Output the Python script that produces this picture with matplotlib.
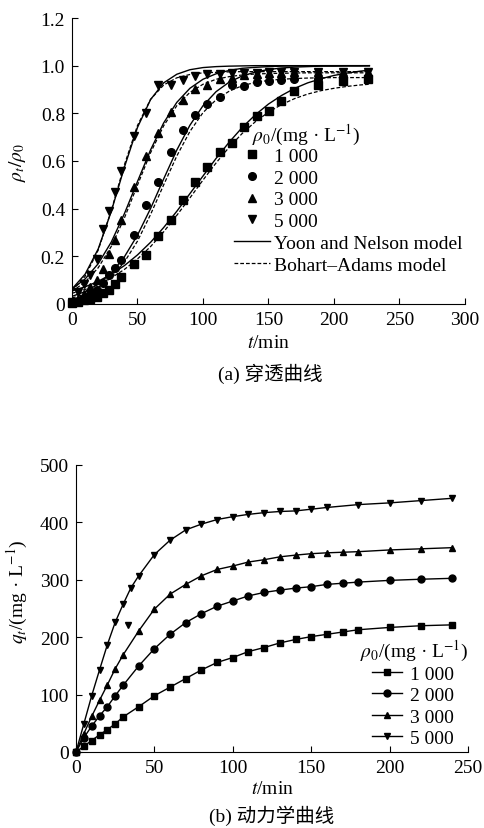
#Recreating the breakthrough curve and kinetic curve figure

#Imports
import numpy as np
import matplotlib.pyplot as plt
from matplotlib.lines import Line2D

plt.rcParams['font.family'] = ['Liberation Serif', 'Noto Sans CJK SC']
plt.rcParams['mathtext.fontset'] = 'stix'
plt.rcParams['font.size'] = 14

#Figure size in pixels (dpi 100)
W, H = 485, 829

def fx(x):
    return x / W

def fy(y):
    return 1 - y / H

#---------------- (a) breakthrough curve data ----------------
conc_labels = ['1 000', '2 000', '3 000', '5 000']

t_a = [0, 4.7, 9.4, 14.1, 18.8, 23.5, 28.2, 32.9, 37.6, 47, 56.4, 65.8, 75.2,
       84.6, 94, 103.4, 112.8, 122.2, 131.6, 141, 150.4, 159.8, 169.2, 188,
       206.8, 225.6]
a_1000 = [0.005, 0.01, 0.015, 0.022, 0.03, 0.045, 0.06, 0.085, 0.113, 0.168,
          0.205, 0.284, 0.353, 0.437, 0.51, 0.576, 0.639, 0.675, 0.741, 0.787,
          0.808, 0.853, 0.892, 0.92, 0.935, 0.945]
a_2000 = [0.005, 0.012, 0.025, 0.04, 0.06, 0.09, 0.12, 0.15, 0.186, 0.289,
          0.415, 0.51, 0.636, 0.731, 0.794, 0.839, 0.867, 0.918, 0.913, 0.93,
          0.935, 0.939, 0.943, 0.945, 0.948, 0.95]
a_3000 = [0.01, 0.02, 0.04, 0.07, 0.1, 0.147, 0.21, 0.27, 0.352, 0.489, 0.622,
          0.717, 0.804, 0.855, 0.902, 0.918, 0.943, 0.95, 0.96, 0.965, 0.97,
          0.97, 0.972, 0.975, 0.975, 0.975]
a_5000 = [0.01, 0.05, 0.085, 0.12, 0.189, 0.314, 0.391, 0.47, 0.556, 0.706,
          0.80, 0.918, 0.918, 0.94, 0.955, 0.965, 0.965, 0.97, 0.97, 0.97,
          0.975, 0.975, 0.975, 0.975, 0.975, 0.975]

#model curves
t_m = [0, 10, 20, 30, 40, 50, 60, 70, 80, 90, 100, 110, 120, 130, 140, 150,
       160, 170, 180, 190, 200, 210, 220, 227]
yn_1000 = [0.055, 0.072, 0.095, 0.125, 0.161, 0.206, 0.259, 0.321, 0.389,
           0.463, 0.537, 0.611, 0.679, 0.741, 0.794, 0.839, 0.875, 0.905,
           0.928, 0.945, 0.959, 0.969, 0.977, 0.981]
yn_2000 = [0.032, 0.052, 0.083, 0.130, 0.198, 0.289, 0.401, 0.525, 0.646,
           0.750, 0.832, 0.891, 0.931, 0.957, 0.973, 0.984, 0.990, 0.994,
           0.996, 0.998, 0.998, 0.999, 0.999, 1.0]
yn_3000 = [0.063, 0.105, 0.169, 0.260, 0.379, 0.514, 0.647, 0.760, 0.846,
           0.905, 0.943, 0.966, 0.980, 0.989, 0.993, 0.996, 0.998, 0.999,
           0.999, 1.0, 1.0, 1.0, 1.0, 1.0]
yn_5000 = [0.063, 0.125, 0.231, 0.389, 0.574, 0.741, 0.858, 0.928, 0.964,
           0.983, 0.992, 0.996, 0.998, 0.999, 1.0, 1.0, 1.0, 1.0, 1.0, 1.0,
           1.0, 1.0, 1.0, 1.0]
ba_1000 = [0.045, 0.061, 0.082, 0.110, 0.145, 0.189, 0.241, 0.303, 0.372,
           0.445, 0.520, 0.592, 0.658, 0.716, 0.765, 0.805, 0.837, 0.862,
           0.881, 0.895, 0.905, 0.913, 0.919, 0.922]
ba_2000 = [0.025, 0.042, 0.069, 0.112, 0.176, 0.264, 0.376, 0.500, 0.621,
           0.724, 0.803, 0.857, 0.893, 0.916, 0.930, 0.938, 0.943, 0.946,
           0.948, 0.949, 0.95, 0.95, 0.95, 0.95]
ba_3000 = [0.053, 0.092, 0.152, 0.242, 0.361, 0.499, 0.635, 0.748, 0.832,
           0.888, 0.922, 0.943, 0.954, 0.961, 0.965, 0.967, 0.968, 0.969,
           0.97, 0.97, 0.97, 0.97, 0.97, 0.97]
ba_5000 = [0.056, 0.116, 0.226, 0.392, 0.584, 0.749, 0.859, 0.919, 0.949,
           0.963, 0.970, 0.972, 0.974, 0.975, 0.975, 0.975, 0.975, 0.975,
           0.975, 0.975, 0.975, 0.975, 0.975, 0.975]

#---------------- (b) kinetic curve data ----------------
t_b = [0, 5, 10, 15, 20, 25, 30, 40, 50, 60, 70, 80, 90, 100, 110, 120, 130,
       140, 150, 160, 170, 180, 200, 220, 240]
t_b5 = [0, 5, 10, 15, 20, 25, 30, 35, 40, 50, 60, 70, 80, 90, 100, 110, 120,
        130, 140, 150, 160, 180, 200, 220, 240]
q_1000 = [0, 10, 20, 30, 39, 49, 61, 79, 98, 113, 128, 143, 156, 164.6, 175,
          182, 190, 196, 201, 205, 209, 213, 217, 220, 221.5]
q_2000 = [0, 25, 45, 63, 79, 98, 116, 150, 180, 205, 225.5, 241, 254, 263,
          272, 278, 282, 285.5, 288, 292, 294, 296, 299, 301, 302.6]
q_3000 = [0, 32, 62, 90, 117, 145, 169, 211, 249, 275, 292, 307, 318, 324,
          331, 335, 340, 343, 345.5, 347, 348, 349, 352, 354, 356]
q_5000 = [0, 49, 98, 143, 187, 226, 257, 286, 307, 344, 369, 387, 397, 405,
          410, 414, 417, 419, 420, 423, 426, 431, 434, 438, 442]
#a lone 5000 marker that is off the line
t_extra = [33]
q_extra = [221]

markers = ['s', 'o', '^', 'v']

fig = plt.figure(figsize=(W / 100, H / 100), dpi=100)

def style_axes(ax):
    ax.spines['top'].set_visible(False)
    ax.spines['right'].set_visible(False)
    for s in ['left', 'bottom']:
        ax.spines[s].set_linewidth(0.8)
    ax.tick_params(direction='in', length=4, width=0.8, pad=5)

#---------------- top chart ----------------
ax1 = fig.add_axes([fx(72), fy(305), fx(465) - fx(72), fy(19) - fy(305)])
style_axes(ax1)
yn = [yn_1000, yn_2000, yn_3000, yn_5000]
ba = [ba_1000, ba_2000, ba_3000, ba_5000]
pts = [a_1000, a_2000, a_3000, a_5000]
for i in range(4):
    ax1.plot(t_m, yn[i], color='black', lw=1.0, zorder=2)
    ax1.plot(t_m, ba[i], color='black', lw=0.9, ls=(0, (3, 1.6)), zorder=2)
    ax1.plot(t_a, pts[i], ls='none', marker=markers[i], color='black',
             ms=5.5, clip_on=False, zorder=3)
ax1.set_xlim(0, 300)
ax1.set_ylim(0, 1.2)
ax1.set_xticks(np.arange(0, 301, 50))
ax1.set_yticks([0, 0.2, 0.4, 0.6, 0.8, 1.0, 1.2])
ax1.set_yticklabels(['0', '0.2', '0.4', '0.6', '0.8', '1.0', '1.2'])

handles = [Line2D([], [], ls='none', marker=m, color='black', ms=5.5) for m in markers]
handles.append(Line2D([], [], color='black', lw=1.0))
handles.append(Line2D([], [], color='black', lw=0.9, ls=(0, (3, 1.6))))
labels = conc_labels + ['Yoon and Nelson model', 'Bohart–Adams model']
ax1.legend(handles, labels, loc='upper left', bbox_to_anchor=(fx(234), fy(148)),
           bbox_transform=fig.transFigure, frameon=False, borderpad=0,
           borderaxespad=0, handlelength=1.85, handletextpad=0.2,
           labelspacing=0.22)
fig.text(fx(252), fy(135), r'$\rho_0$/(mg · L$^{-1}$)', ha='left', va='center')

fig.text(fx(18), fy(162), r'$\rho_t/\rho_0$', rotation=90, ha='center', va='center')
fig.text(fx(268), fy(343), r'$t$/min', ha='center', va='center')
fig.text(fx(270), fy(374), '(a) 穿透曲线', ha='center', va='center')

#---------------- bottom chart ----------------
ax2 = fig.add_axes([fx(76), fy(753), fx(468) - fx(76), fy(466) - fy(753)])
style_axes(ax2)
qs = [q_1000, q_2000, q_3000, q_5000]
ts = [t_b, t_b, t_b, t_b5]
for i in range(4):
    ax2.plot(ts[i], qs[i], color='black', lw=1.0, marker=markers[i], ms=5,
             clip_on=False, label=conc_labels[i])
ax2.plot(t_extra, q_extra, ls='none', marker='v', color='black', ms=5)
ax2.set_xlim(0, 250)
ax2.set_ylim(0, 500)
ax2.set_xticks(np.arange(0, 251, 50))
ax2.set_yticks(np.arange(0, 501, 100))
ax2.legend(loc='upper left', bbox_to_anchor=(fx(372), fy(666)),
           bbox_transform=fig.transFigure, frameon=False, borderpad=0,
           borderaxespad=0, handlelength=1.55, handletextpad=0.4,
           labelspacing=0.2)
fig.text(fx(360), fy(651), r'$\rho_0$/(mg · L$^{-1}$)', ha='left', va='center')

fig.text(fx(17), fy(592), r'$q_t$/(mg · L$^{-1}$)', rotation=90, ha='center', va='center')
fig.text(fx(272), fy(790), r'$t$/min', ha='center', va='center')
fig.text(fx(272), fy(816), '(b) 动力学曲线', ha='center', va='center')

plt.savefig('out.png', dpi=100)
